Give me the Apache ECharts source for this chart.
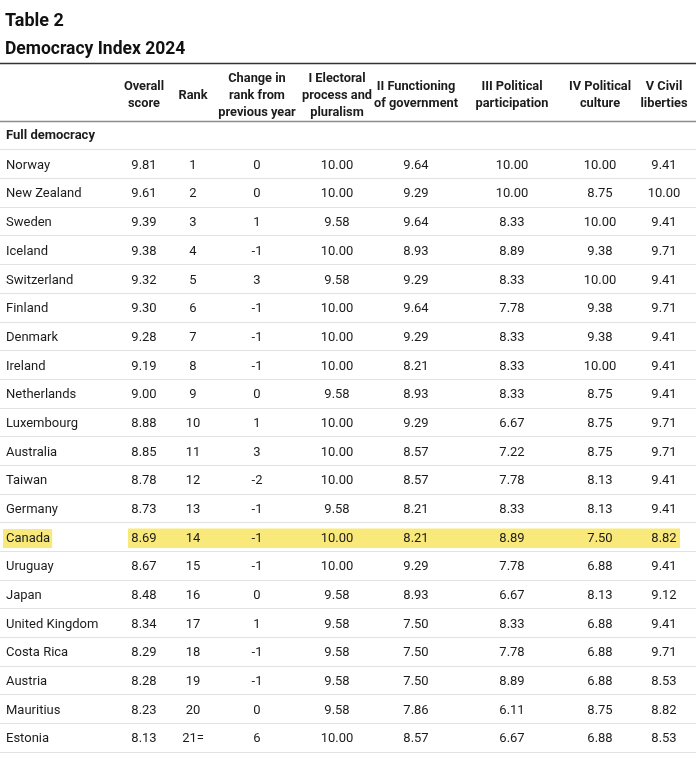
<!DOCTYPE html>
<html>
<head>
<meta charset="utf-8">
<script src="https://cdn.jsdelivr.net/npm/echarts@6/dist/echarts.min.js"></script>
<style>
  html, body { margin: 0; padding: 0; background: #fff; }
  #main { width: 696px; height: 764px; }
</style>
</head>
<body>
<div id="main"></div>
<script>
// Table data
const groupName = 'Full democracy'
const countries = ['Norway', 'New Zealand', 'Sweden', 'Iceland', 'Switzerland', 'Finland', 'Denmark', 'Ireland', 'Netherlands', 'Luxembourg', 'Australia', 'Taiwan', 'Germany', 'Canada', 'Uruguay', 'Japan', 'United Kingdom', 'Costa Rica', 'Austria', 'Mauritius', 'Estonia']
const overall = [9.81, 9.61, 9.39, 9.38, 9.32, 9.30, 9.28, 9.19, 9.00, 8.88, 8.85, 8.78, 8.73, 8.69, 8.67, 8.48, 8.34, 8.29, 8.28, 8.23, 8.13]
const rank = ['1', '2', '3', '4', '5', '6', '7', '8', '9', '10', '11', '12', '13', '14', '15', '16', '17', '18', '19', '20', '21=']
const change = [0, 0, 1, -1, 3, -1, -1, -1, 0, 1, 3, -2, -1, -1, -1, 0, 1, -1, -1, 0, 6]
const electoral = [10.00, 10.00, 9.58, 10.00, 9.58, 10.00, 10.00, 10.00, 9.58, 10.00, 10.00, 10.00, 9.58, 10.00, 10.00, 9.58, 9.58, 9.58, 9.58, 9.58, 10.00]
const functioning = [9.64, 9.29, 9.64, 8.93, 9.29, 9.64, 9.29, 8.21, 8.93, 9.29, 8.57, 8.57, 8.21, 8.21, 9.29, 8.93, 7.50, 7.50, 7.50, 7.86, 8.57]
const participation = [10.00, 10.00, 8.33, 8.89, 8.33, 7.78, 8.33, 8.33, 8.33, 6.67, 7.22, 7.78, 8.33, 8.89, 7.78, 6.67, 8.33, 7.78, 8.89, 6.11, 6.67]
const culture = [10.00, 8.75, 10.00, 9.38, 10.00, 9.38, 9.38, 10.00, 8.75, 8.75, 8.75, 8.13, 8.13, 7.50, 6.88, 8.13, 6.88, 6.88, 6.88, 8.75, 6.88]
const liberties = [9.41, 10.00, 9.41, 9.71, 9.41, 9.71, 9.41, 9.41, 9.41, 9.71, 9.71, 9.41, 9.41, 8.82, 9.41, 9.12, 9.41, 9.71, 8.53, 8.82, 8.53]
const headers = ['Overall\nscore', 'Rank', 'Change in\nrank from\nprevious year', 'I Electoral\nprocess and\npluralism', 'II Functioning\nof government', 'III Political\nparticipation', 'IV Political\nculture', 'V Civil\nliberties']
const highlighted = 'Canada'

// layout (column centres on a 0..696 axis)
const nameX = 6
const colX = [144, 193, 257, 337, 416, 512, 600, 664]
const FONT = 'Roboto, "Noto Sans", sans-serif'
const INK = '#1c1c1c'
const HL = '#f8e97a'

const fmt = v => v.toFixed(2)
const columns = [
    overall.map(fmt), rank, change.map(String), electoral.map(fmt),
    functioning.map(fmt), participation.map(fmt), culture.map(fmt), liberties.map(fmt)
]

// cells of the body
let cells = []
cells.push({ value: [nameX, groupName], kind: 'group', text: groupName })
countries.forEach((c, r) => {
    if (c === highlighted) cells.push({ value: [colX[0], c], kind: 'band' })
    cells.push({ value: [nameX, c], kind: 'name', text: c, hl: c === highlighted })
    columns.forEach((col, i) => {
        cells.push({ value: [colX[i], c], kind: 'num', text: col[r] })
    })
})

const headerCells = headers.map((h, i) => ({ value: [colX[i], groupName], text: h }))

const renderBody = (params, api) => {
    const cell = cells[params.dataIndex]
    const p = api.coord([api.value(0), cell.value[1]])
    if (cell.kind === 'band') {
        const q = api.coord([colX[colX.length - 1], cell.value[1]])
        return {
            type: 'rect',
            shape: { x: p[0] - 16, y: p[1] - 8.5, width: q[0] - p[0] + 32, height: 19.5 },
            style: { fill: HL }
        }
    }
    const left = cell.kind === 'group' || cell.kind === 'name'
    const style = {
        text: cell.text,
        x: p[0],
        y: p[1] + (cell.kind === 'group' ? 0.5 : 1.5),
        align: left ? 'left' : 'center',
        verticalAlign: 'middle',
        fill: INK,
        fontFamily: FONT,
        fontSize: 13,
        fontWeight: cell.kind === 'group' ? 'bold' : 'normal'
    }
    if (cell.hl) {
        style.x = p[0] - 3
        style.backgroundColor = HL
        style.padding = [3, 2, 3, 3]
    }
    return { type: 'text', style: style }
}

const renderHeader = (params, api) => {
    const p = api.coord([api.value(0), groupName])
    return {
        type: 'text',
        style: {
            text: headerCells[params.dataIndex].text,
            x: p[0],
            y: p[1] - 40,
            align: 'center',
            verticalAlign: 'middle',
            lineHeight: 17,
            fill: INK,
            fontFamily: FONT,
            fontSize: 12.8,
            fontWeight: 'bold'
        }
    }
}

let EC = echarts.init(document.getElementById('main'))
let option = {
    backgroundColor: '#fff',
    animation: false,
    title: [{
        text: 'Table 2',
        left: 5,
        top: 12,
        padding: 0,
        textStyle: { fontFamily: FONT, fontSize: 18, fontWeight: 'bold', color: '#111' }
    }, {
        text: 'Democracy Index 2024',
        left: 5,
        top: 41,
        padding: 0,
        textStyle: { fontFamily: FONT, fontSize: 17.5, fontWeight: 'bold', color: '#111' }
    }],
    graphic: [{
        type: 'line',
        shape: { x1: 0, y1: 63.5, x2: 696, y2: 63.5 },
        style: { stroke: '#333', lineWidth: 1.3 }
    }],
    grid: { left: 0, right: 0, top: 121, bottom: 12 },
    xAxis: {
        type: 'value',
        min: 0,
        max: 696,
        position: 'top',
        axisLine: { show: true, lineStyle: { color: '#8c8c8c', width: 1.3 } },
        axisTick: { show: false },
        axisLabel: { show: false },
        splitLine: { show: false }
    },
    yAxis: {
        type: 'category',
        inverse: true,
        data: [groupName].concat(countries),
        axisLine: { show: false },
        axisTick: { show: false },
        axisLabel: { show: false },
        splitLine: { show: true, lineStyle: { color: '#e2e2e2', width: 1 } }
    },
    series: [{
        type: 'custom',
        renderItem: renderBody,
        data: cells.map(c => c.value),
        clip: false,
        silent: true
    }, {
        type: 'custom',
        renderItem: renderHeader,
        data: headerCells.map(c => c.value),
        clip: false,
        silent: true
    }]
}
EC.setOption(option)
</script>
</body>
</html>
